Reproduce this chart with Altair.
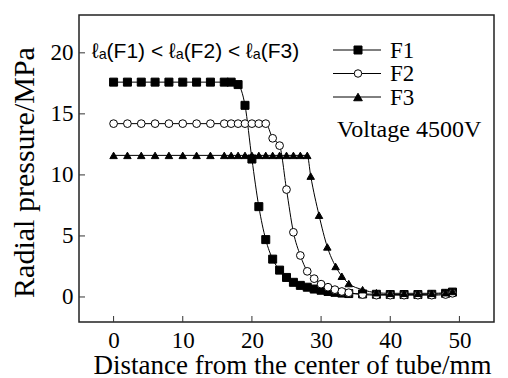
import altair as alt
import pandas as pd

series_names = ["F1", "F2", "F3"]

f1_x = [0, 2, 4, 6, 8, 10, 12, 14, 16, 17, 18, 19, 20, 21, 22, 23, 24, 25, 26, 27,
        28, 29, 30, 31, 32, 33, 34, 36, 38, 40, 42, 44, 46, 48, 49]
f1_y = [17.6, 17.6, 17.6, 17.6, 17.6, 17.6, 17.6, 17.6, 17.6, 17.6, 17.4, 15.7, 11.3,
        7.4, 4.7, 3.1, 2.2, 1.6, 1.2, 0.95, 0.8, 0.65, 0.55, 0.45, 0.38, 0.32, 0.28,
        0.25, 0.22, 0.2, 0.2, 0.2, 0.22, 0.3, 0.4]

f2_x = [0, 2, 4, 6, 8, 10, 12, 14, 16, 17, 18, 19, 20, 21, 22, 23, 24, 25, 26, 27,
        28, 29, 30, 31, 32, 33, 34, 36, 38, 40, 42, 44, 46, 48, 49]
f2_y = [14.2, 14.2, 14.2, 14.2, 14.2, 14.2, 14.2, 14.2, 14.2, 14.2, 14.2, 14.2, 14.2,
        14.2, 14.2, 13.0, 12.4, 8.8, 5.3, 3.4, 2.1, 1.5, 1.05, 0.8, 0.6, 0.45, 0.35,
        0.2, 0.15, 0.15, 0.15, 0.15, 0.15, 0.2, 0.3]

f3_x = [0, 2, 4, 6, 8, 10, 12, 14, 16, 17, 18, 19, 20, 21, 22, 23, 24, 25, 26, 27,
        28, 28.5, 29.7, 30.9, 32.1, 33, 34, 36, 38, 40, 42, 44, 46, 48, 49]
f3_y = [11.6, 11.6, 11.6, 11.6, 11.6, 11.6, 11.6, 11.6, 11.6, 11.6, 11.6, 11.6, 11.6,
        11.6, 11.6, 11.6, 11.6, 11.6, 11.6, 11.6, 11.6, 9.9, 6.7, 4.1, 2.5, 1.7, 1.1,
        0.6, 0.35, 0.3, 0.3, 0.3, 0.3, 0.35, 0.45]

x_ticks = [0, 10, 20, 30, 40, 50]
y_ticks = [0, 5, 10, 15, 20]

annotation = "\u2113\u2090(F1) < \u2113\u2090(F2) < \u2113\u2090(F3)"
voltage_label = "Voltage 4500V"
x_title = "Distance from the center of tube/mm"
y_title = "Radial pressure/MPa"

rows = []
for name, xs, ys in zip(series_names, [f1_x, f2_x, f3_x], [f1_y, f2_y, f3_y]):
    for xv, yv in zip(xs, ys):
        rows.append({"series": name, "x": xv, "y": yv})
df = pd.DataFrame(rows)
df["order"] = df["series"].map({n: i for i, n in enumerate(series_names)})

W, H = 415, 307
SERIF = "Liberation Serif"
SANS = "Liberation Sans"

xscale = alt.Scale(domain=[-5, 55], nice=False, zero=False)
yscale = alt.Scale(domain=[-2.05, 23.1], nice=False, zero=False)
shape_scale = alt.Scale(domain=series_names, range=["square", "circle", "triangle-up"])
fill_scale = alt.Scale(domain=series_names, range=["black", "white", "black"])
size_scale = alt.Scale(domain=series_names, range=[64, 56, 75])

x_axis = alt.Axis(values=x_ticks, title=x_title, grid=False, ticks=False, domain=False,
                  labelFont=SERIF, labelFontSize=23, labelColor="black", labelPadding=7,
                  titleFont=SERIF, titleFontSize=27, titleFontWeight="normal",
                  titleColor="black", titleX=213, titleY=51, titleAlign="center",
                  titleBaseline="alphabetic")
y_axis = alt.Axis(values=y_ticks, title=y_title, grid=False, ticks=False, domain=False,
                  labelFont=SERIF, labelFontSize=23, labelColor="black", labelPadding=6,
                  titleFont=SERIF, titleFontSize=30, titleFontWeight="normal",
                  titleColor="black", titleX=-46, titleY=157, titleAlign="center",
                  titleBaseline="alphabetic", titleAngle=-90)

base = alt.Chart(df)

lines = base.mark_line(color="black", strokeWidth=1, interpolate="monotone").encode(
    x=alt.X("x:Q", scale=xscale, axis=x_axis),
    y=alt.Y("y:Q", scale=yscale, axis=y_axis),
    detail="series:N",
    order="x:Q",
)

points = base.mark_point(filled=True, stroke="black", strokeWidth=1, opacity=1).encode(
    x=alt.X("x:Q", scale=xscale, axis=x_axis),
    y=alt.Y("y:Q", scale=yscale, axis=y_axis),
    shape=alt.Shape("series:N", scale=shape_scale, legend=None),
    fill=alt.Fill("series:N", scale=fill_scale, legend=None),
    size=alt.Size("series:N", scale=size_scale, legend=None),
    order="order:Q",
)

xt = alt.Chart(pd.DataFrame({"x": x_ticks})).mark_rule(color="#333", strokeWidth=1).encode(
    x=alt.X("x:Q", scale=xscale, axis=x_axis),
    y=alt.value(H), y2=alt.value(H - 6),
)
yt = alt.Chart(pd.DataFrame({"y": y_ticks})).mark_rule(color="#333", strokeWidth=1).encode(
    y=alt.Y("y:Q", scale=yscale, axis=y_axis),
    x=alt.value(0), x2=alt.value(6),
)

one = pd.DataFrame({"k": [0]})
ann = alt.Chart(one).mark_text(font=SANS, fontSize=21, align="left", baseline="alphabetic",
                               color="black", text=annotation).encode(
    x=alt.value(13), y=alt.value(43))
volt = alt.Chart(one).mark_text(font=SERIF, fontSize=24, align="left", baseline="alphabetic",
                                color="black", text=voltage_label).encode(
    x=alt.value(258), y=alt.value(122))

legend_layers = []
for i, name in enumerate(series_names):
    yc = 35 + 23.5 * i
    legend_layers.append(
        alt.Chart(one).mark_rule(color="black", strokeWidth=1).encode(
            x=alt.value(254), x2=alt.value(302), y=alt.value(yc)))
    legend_layers.append(
        alt.Chart(one).mark_point(filled=True, stroke="black", strokeWidth=1, opacity=1,
                                  shape=["square", "circle", "triangle-up"][i],
                                  fill=["black", "white", "black"][i],
                                  size=[64, 56, 75][i]).encode(
            x=alt.value(279), y=alt.value(yc)))
    legend_layers.append(
        alt.Chart(one).mark_text(font=SERIF, fontSize=23, align="left", baseline="alphabetic",
                                 color="black", text=name).encode(
            x=alt.value(311), y=alt.value(yc + 7.5)))

chart = alt.layer(lines, points, xt, yt, ann, volt, *legend_layers).properties(
    width=W, height=H,
    background="white",
    autosize=alt.AutoSizeParams(type="none"),
    padding={"left": 71, "top": 7, "right": 6, "bottom": 62},
).configure_view(stroke="#222", strokeWidth=1.5)

chart.save("out.html", embed_options={"renderer": "svg", "actions": False})
